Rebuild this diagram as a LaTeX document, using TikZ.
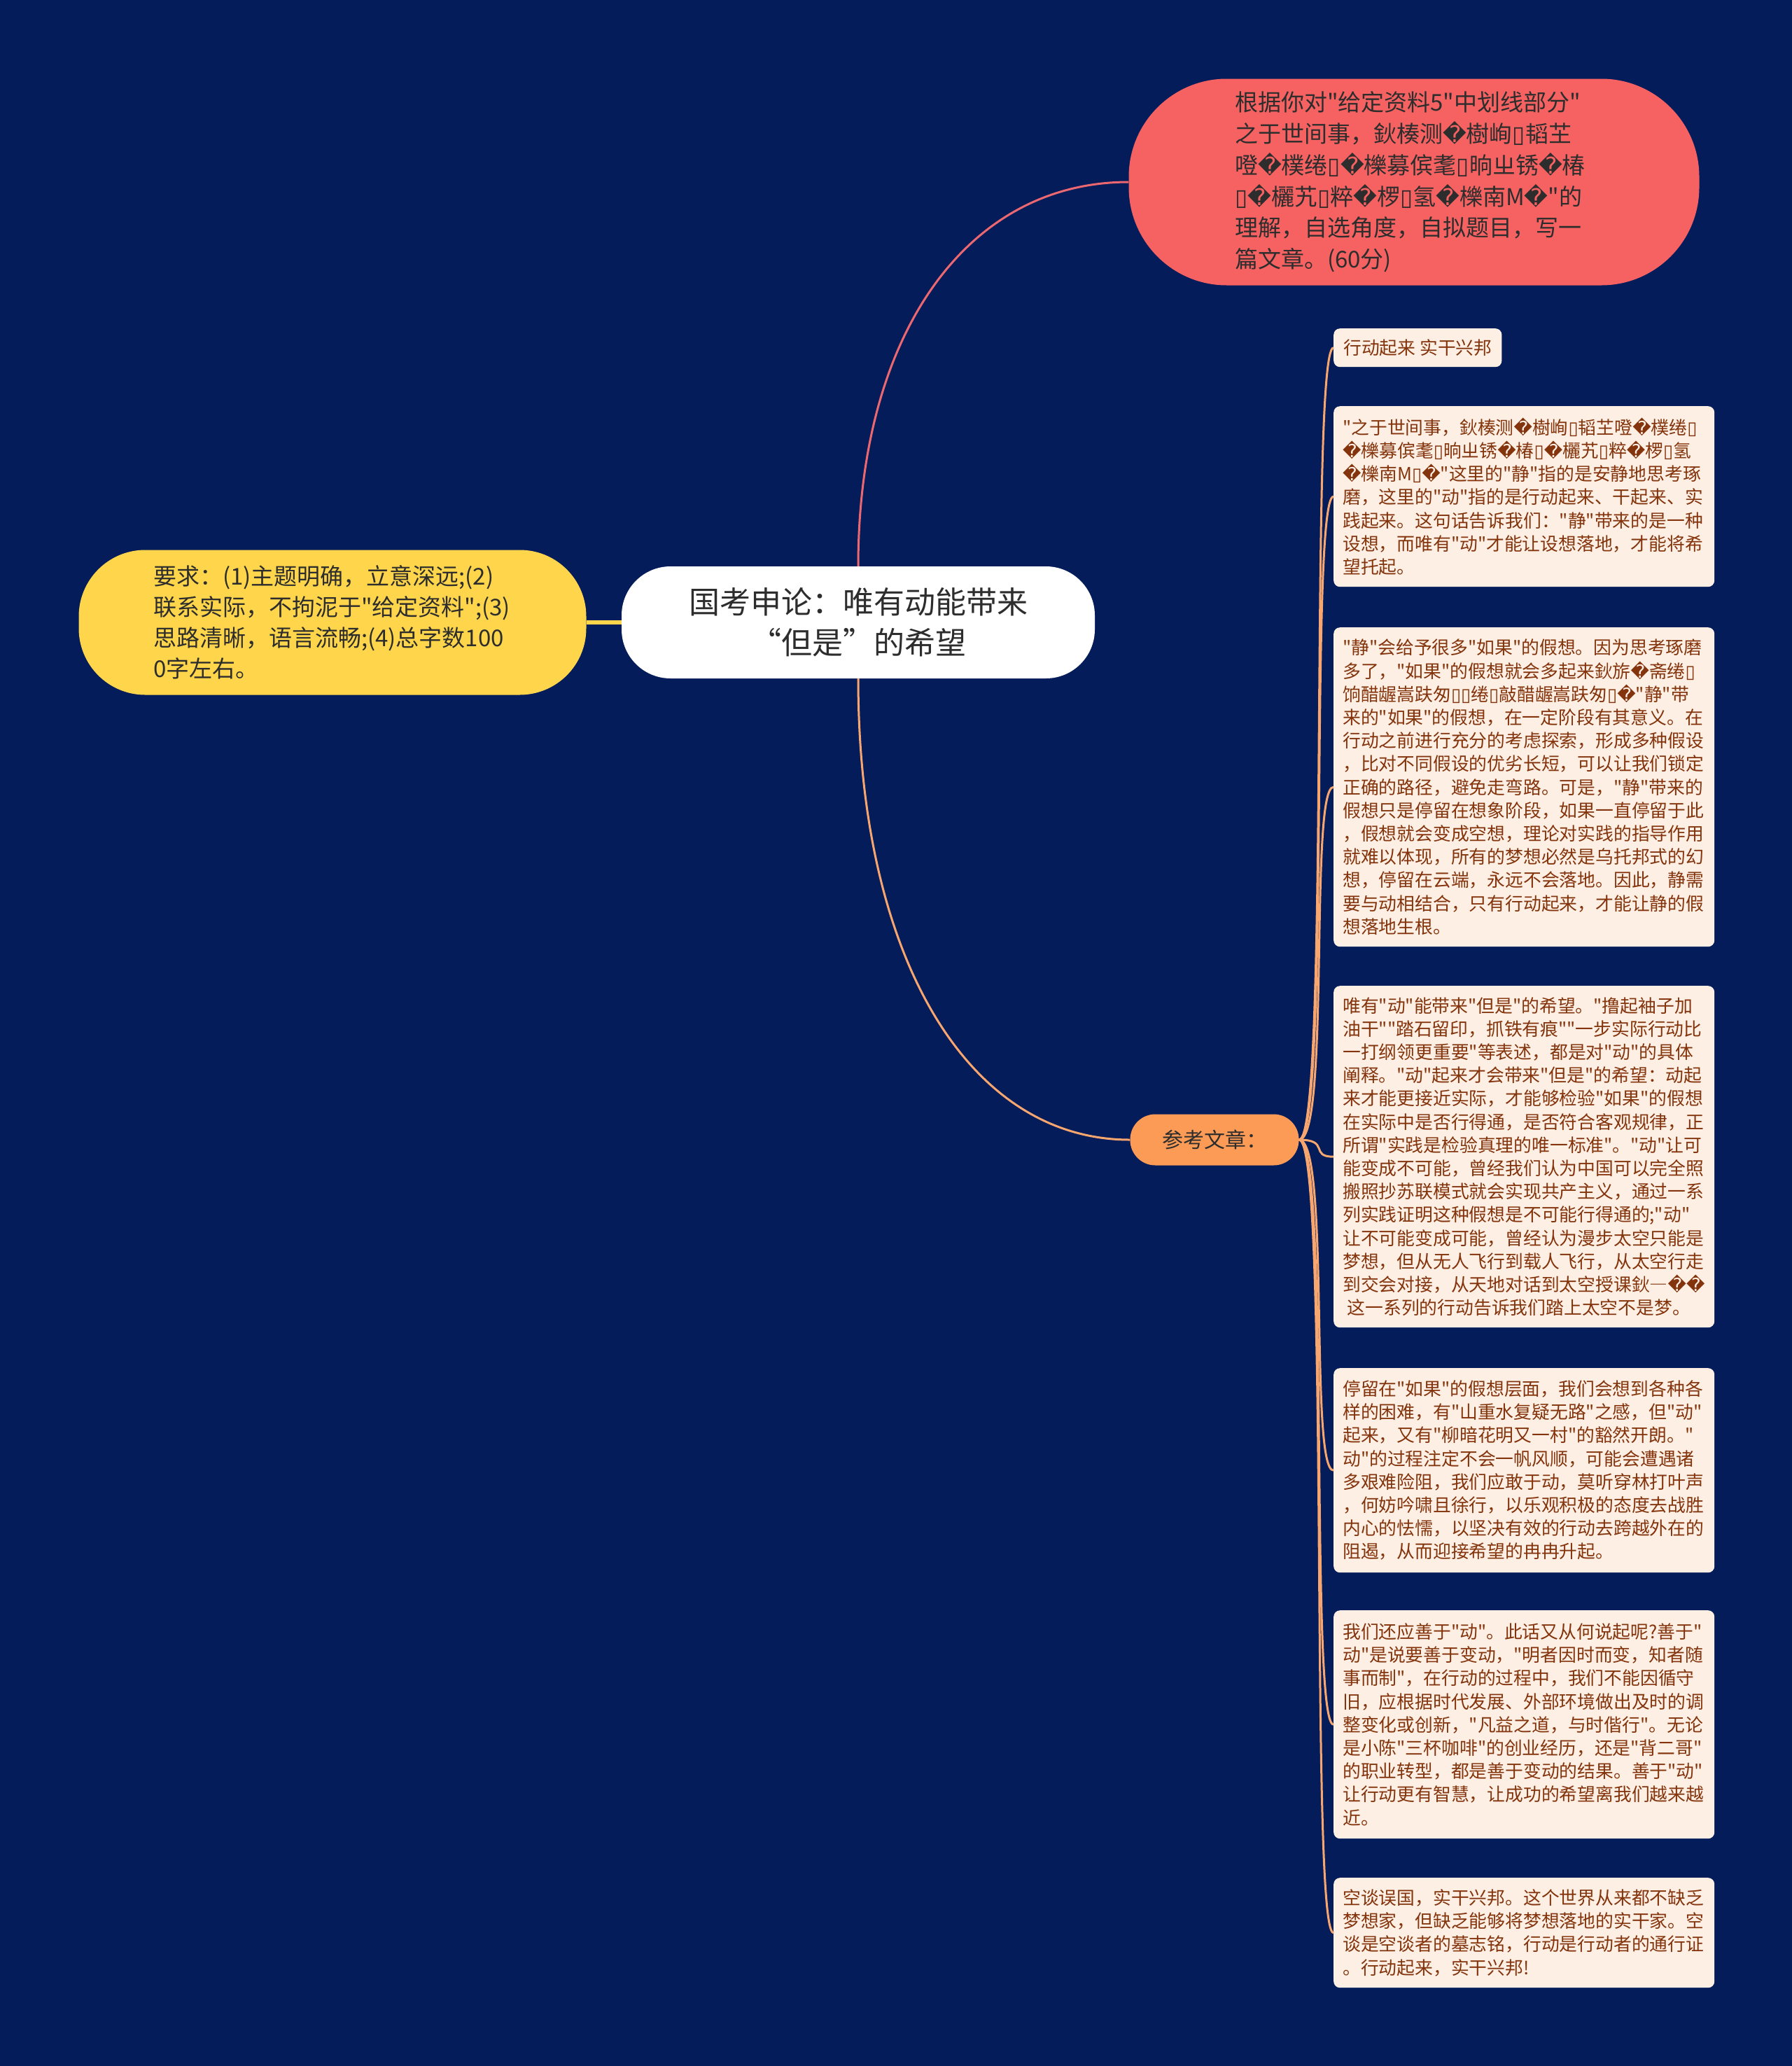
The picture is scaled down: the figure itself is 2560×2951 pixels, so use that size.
\documentclass[tikz,border=0pt]{standalone}
\usepackage{fontspec}
\newfontfamily\cjk{Noto Sans CJK SC}
\newfontfamily\djv{DejaVu Sans}
\newcommand\rp{{\djv\char"FFFD}}
\newcommand\bx{{\djv\char"25AF}}
\definecolor{bgc}{RGB}{4,28,90}
\definecolor{nred}{RGB}{246,98,98}
\definecolor{nyel}{RGB}{255,214,75}
\definecolor{nora}{RGB}{251,155,86}
\definecolor{boxf}{RGB}{253,239,228}
\definecolor{boxt}{RGB}{132,52,12}
\definecolor{txtd}{RGB}{45,45,45}
\definecolor{lred}{RGB}{236,104,112}
\definecolor{lora}{RGB}{246,166,110}
\definecolor{lyel}{RGB}{255,214,75}
\tikzset{
  rootnode/.style={fill=white, rounded corners=70pt, minimum width=676pt, minimum height=160pt,
    text=txtd, font=\cjk\fontsize{44}{58}\selectfont, align=center, inner sep=0pt},
  rednode/.style={fill=nred, rounded corners=140pt, minimum width=815pt, minimum height=295pt,
    text=txtd, font=\cjk\fontsize{33}{44.8}\selectfont, align=left, text width=512pt, inner xsep=151pt, inner ysep=0pt},
  yelnode/.style={fill=nyel, rounded corners=95pt, minimum width=725pt, minimum height=207pt,
    text=txtd, font=\cjk\fontsize{33}{44}\selectfont, align=left, text width=512pt, inner xsep=106pt, inner ysep=0pt},
  refnode/.style={fill=nora, rounded corners=36pt, minimum width=241pt, minimum height=73pt,
    text=txtd, font=\cjk\fontsize{30}{36}\selectfont, inner sep=0pt},
  detail/.style={fill=boxf, rounded corners=9pt, text=boxt, font=\cjk\fontsize{25.8}{33.2}\selectfont,
    align=left, text width=518pt, inner xsep=13pt, inner ysep=0pt, anchor=north west},
  smalldetail/.style={fill=boxf, rounded corners=9pt, text=boxt, font=\cjk\fontsize{25.8}{33.2}\selectfont,
    inner xsep=14pt, inner ysep=0pt, minimum height=55pt, anchor=north west},
  redline/.style={draw=lred, line width=3pt},
  oraline/.style={draw=lora, line width=3pt},
  yelline/.style={draw=lyel, line width=6pt},
}
\begin{document}
\begin{tikzpicture}[x=1pt, y=-1pt]
\useasboundingbox (0,0) rectangle (2560,2951);
\fill[bgc] (0,0) rectangle (2560,2951);

% main nodes
\node[rootnode] (root) at (1226,889) {国考申论：唯有动能带来\\“但是”的希望};
\node[rednode] (req) at (2020,260) {根据你对"给定资料5"中划线部分"\\
之于世间事，鈥楱测\rp{}樹峋\bx{}韬芏\\
噔\rp{}樸绻\bx{}\rp{}櫟募傧耄\bx{}晌ㄓ锈\rp{}椿\\
\bx{}\rp{}欐艽\bx{}粹\rp{}椤\bx{}氢\rp{}櫟南M\rp{}"的\\
理解，自选角度，自拟题目，写一\\
篇文章。(60分)};
\node[yelnode] (yel) at (475,889) {要求：(1)主题明确，立意深远;(2)\\
联系实际，不拘泥于"给定资料";(3)\\
思路清晰，语言流畅;(4)总字数100\\
0字左右。};
\node[refnode] (ref) at (1735,1628) {参考文章：};

% detail boxes
\node[smalldetail] (b0) at (1905,469) {行动起来 实干兴邦};
\node[detail, minimum height=258pt] (b1) at (1905,580) {"之于世间事，鈥楱测\rp{}樹峋\bx{}韬芏噔\rp{}樸绻\bx{}\\
\rp{}櫟募傧耄\bx{}晌ㄓ锈\rp{}椿\bx{}\rp{}欐艽\bx{}粹\rp{}椤\bx{}氢\\
\rp{}櫟南M\bx{}\rp{}"这里的"静"指的是安静地思考琢\\
磨，这里的"动"指的是行动起来、干起来、实\\
践起来。这句话告诉我们："静"带来的是一种\\
设想，而唯有"动"才能让设想落地，才能将希\\
望托起。};
\node[detail, minimum height=456pt] (b2) at (1905,896) {"静"会给予很多"如果"的假想。因为思考琢磨\\
多了，"如果"的假想就会多起来鈥旂\rp{}斋绻\bx{}\\
饷醋龌嵩趺匆\bx{}\bx{}绻\bx{}敲醋龌嵩趺匆\bx{}\rp{}"静"带\\
来的"如果"的假想，在一定阶段有其意义。在\\
行动之前进行充分的考虑探索，形成多种假设\\
，比对不同假设的优劣长短，可以让我们锁定\\
正确的路径，避免走弯路。可是，"静"带来的\\
假想只是停留在想象阶段，如果一直停留于此\\
，假想就会变成空想，理论对实践的指导作用\\
就难以体现，所有的梦想必然是乌托邦式的幻\\
想，停留在云端，永远不会落地。因此，静需\\
要与动相结合，只有行动起来，才能让静的假\\
想落地生根。};
\node[detail, minimum height=488pt] (b3) at (1905,1408) {唯有"动"能带来"但是"的希望。"撸起袖子加\\
油干""踏石留印，抓铁有痕""一步实际行动比\\
一打纲领更重要"等表述，都是对"动"的具体\\
阐释。"动"起来才会带来"但是"的希望：动起\\
来才能更接近实际，才能够检验"如果"的假想\\
在实际中是否行得通，是否符合客观规律，正\\
所谓"实践是检验真理的唯一标准"。"动"让可\\
能变成不可能，曾经我们认为中国可以完全照\\
搬照抄苏联模式就会实现共产主义，通过一系\\
列实践证明这种假想是不可能行得通的;"动"\\
让不可能变成可能，曾经认为漫步太空只能是\\
梦想，但从无人飞行到载人飞行，从太空行走\\
到交会对接，从天地对话到太空授课鈥―\rp{}\rp{}\\
\hspace*{0.25em}这一系列的行动告诉我们踏上太空不是梦。};
\node[detail, minimum height=292pt] (b4) at (1905,1954) {停留在"如果"的假想层面，我们会想到各种各\\
样的困难，有"山重水复疑无路"之感，但"动"\\
起来，又有"柳暗花明又一村"的豁然开朗。"\\
动"的过程注定不会一帆风顺，可能会遭遇诸\\
多艰难险阻，我们应敢于动，莫听穿林打叶声\\
，何妨吟啸且徐行，以乐观积极的态度去战胜\\
内心的怯懦，以坚决有效的行动去跨越外在的\\
阻遏，从而迎接希望的冉冉升起。};
\node[detail, minimum height=326pt] (b5) at (1905,2300) {我们还应善于"动"。此话又从何说起呢?善于"\\
动"是说要善于变动，"明者因时而变，知者随\\
事而制"，在行动的过程中，我们不能因循守\\
旧，应根据时代发展、外部环境做出及时的调\\
整变化或创新，"凡益之道，与时偕行"。无论\\
是小陈"三杯咖啡"的创业经历，还是"背二哥"\\
的职业转型，都是善于变动的结果。善于"动"\\
让行动更有智慧，让成功的希望离我们越来越\\
近。};
\node[detail, minimum height=157pt] (b6) at (1905,2682) {空谈误国，实干兴邦。这个世界从来都不缺乏\\
梦想家，但缺乏能够将梦想落地的实干家。空\\
谈是空谈者的墓志铭，行动是行动者的通行证\\
。行动起来，实干兴邦!};

% connectors
\draw[redline] (root.north) .. controls +(0,-330) and +(-232,0) .. (req.west);
\draw[oraline] (root.south) .. controls +(0,395) and +(-233,0) .. (ref.west);
\draw[yelline] (yel.east) -- (root.west);
\foreach \b in {b0,b1,b2,b3,b4,b5,b6}{
  \draw[oraline] (ref.east) .. controls +(45,0) and +(-35,0) .. (\b.west);
}
\end{tikzpicture}
\end{document}
